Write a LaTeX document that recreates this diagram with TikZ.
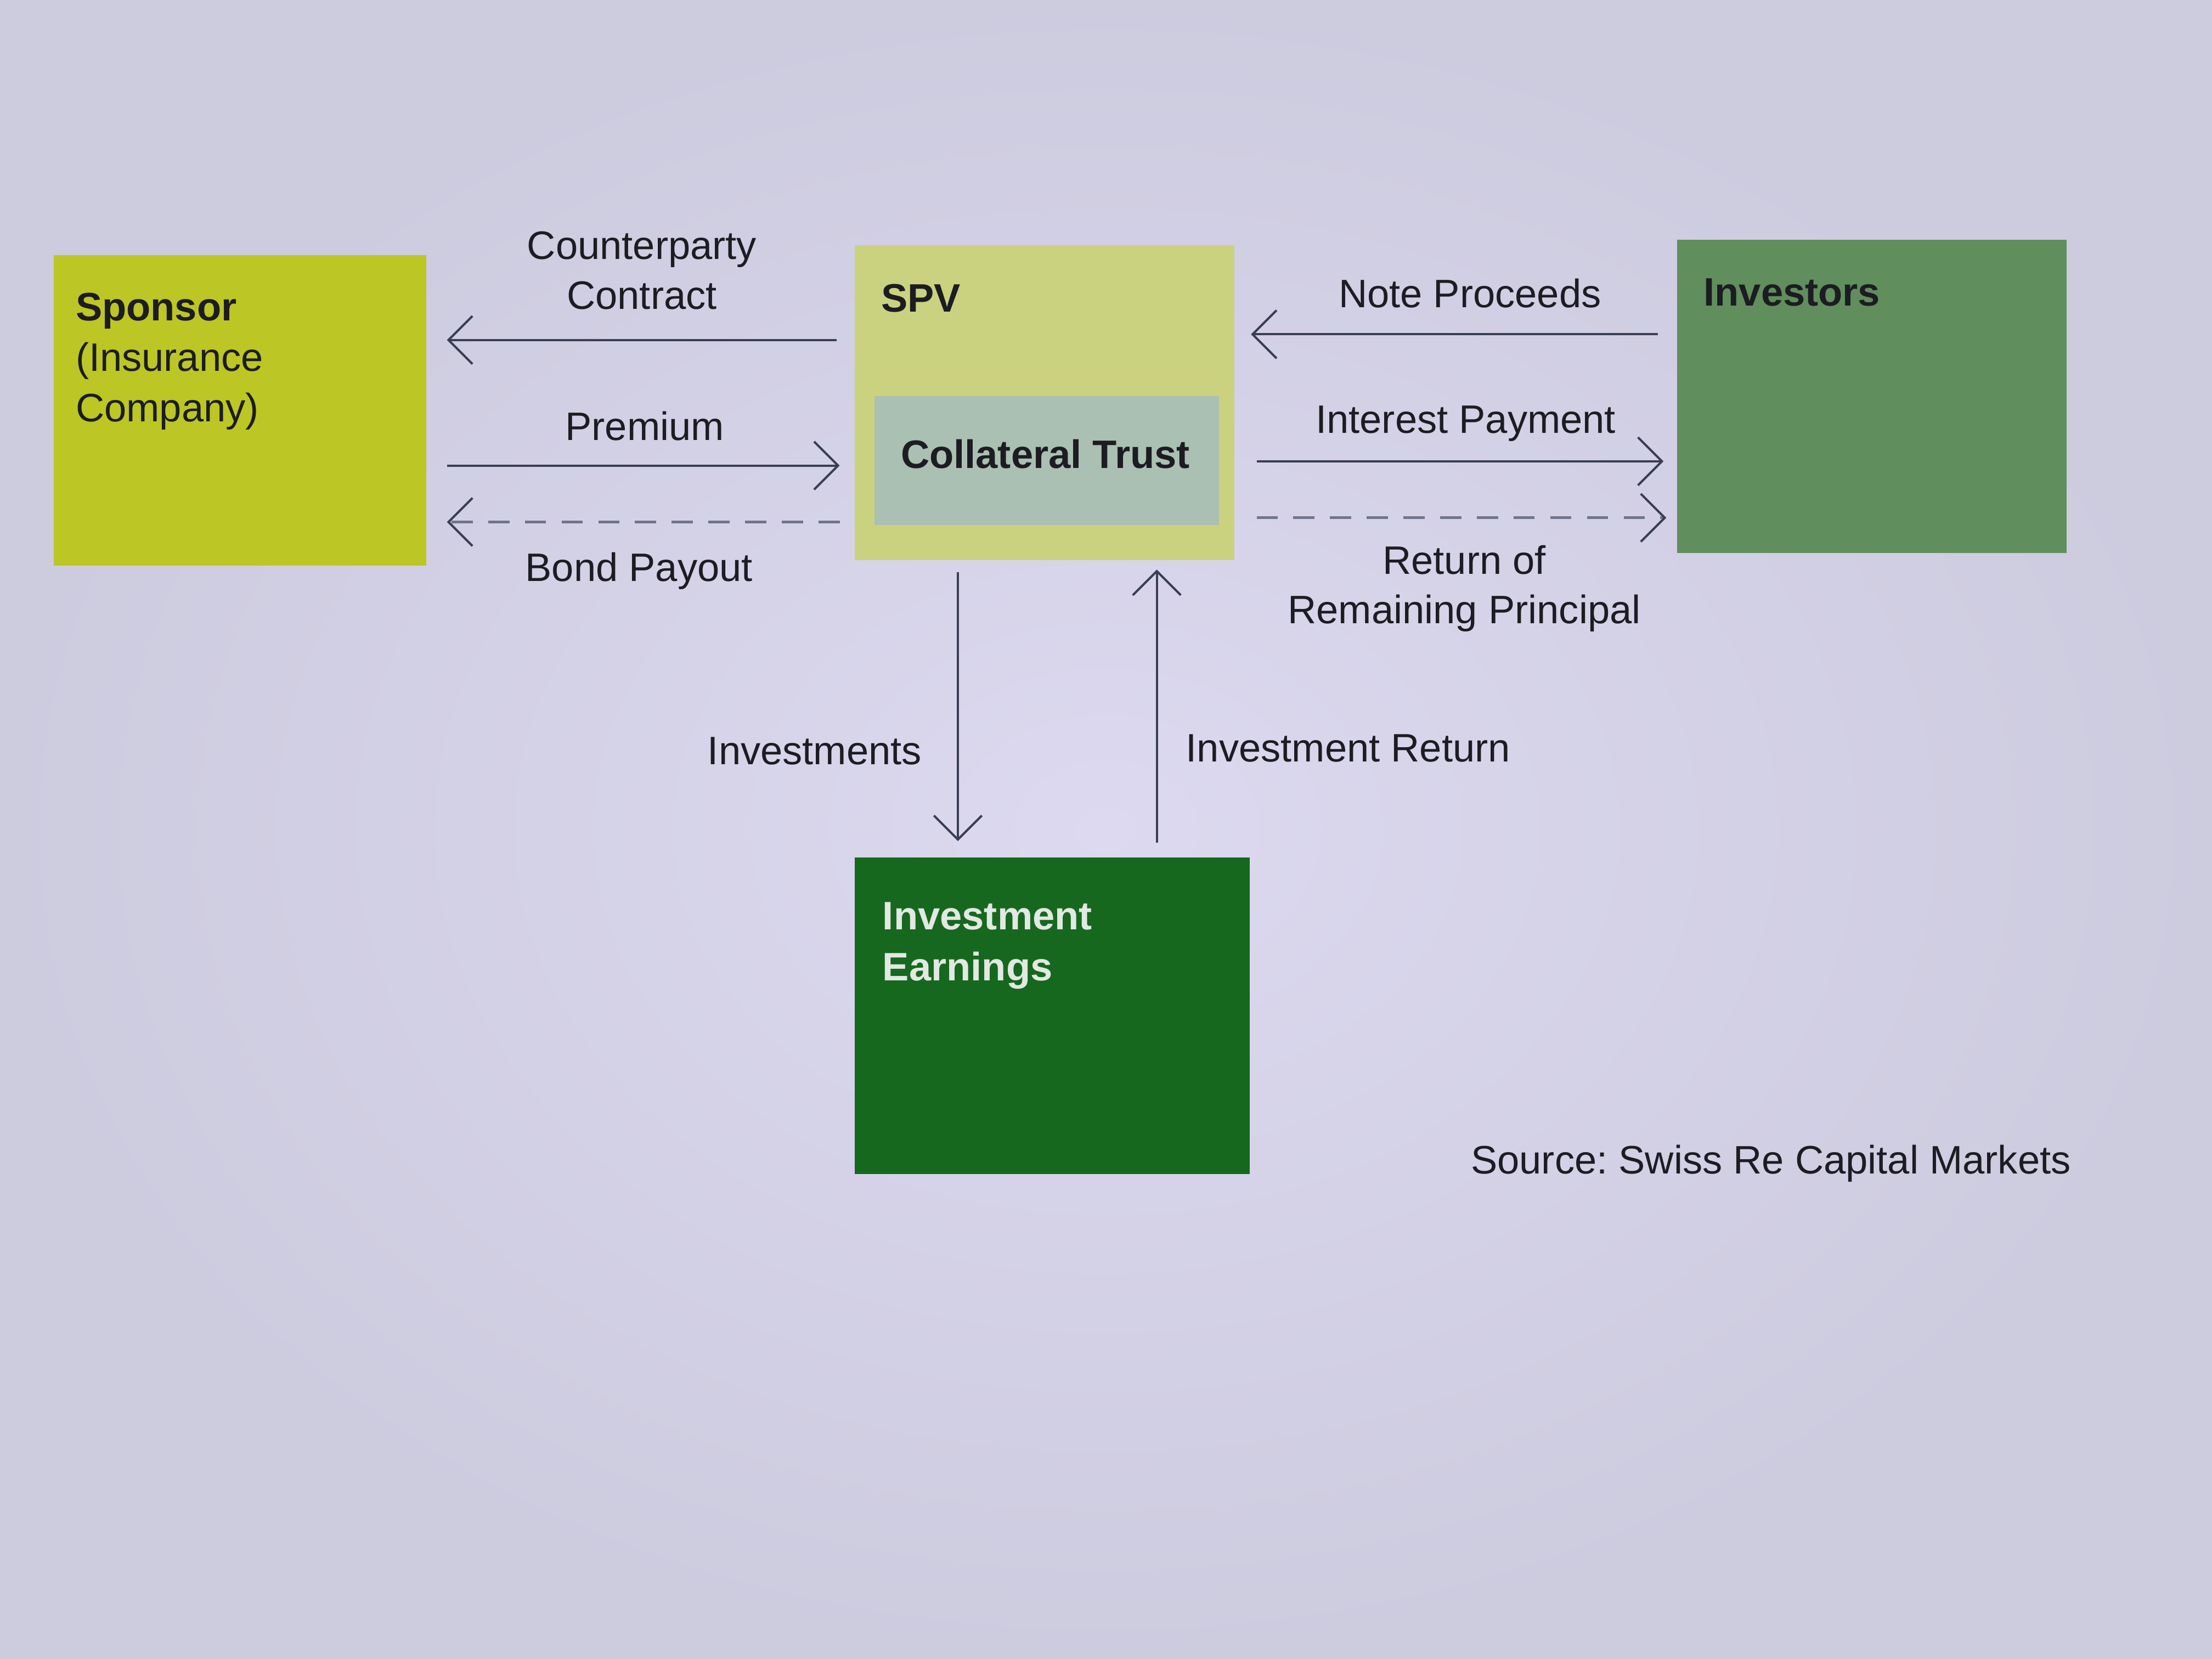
\documentclass[tikz,border=0pt]{standalone}
\usepackage{fontspec}
\setmainfont{Liberation Sans}
\usetikzlibrary{arrows.meta}
\definecolor{bgin}{RGB}{220,217,240}
\definecolor{bgout}{RGB}{205,203,222}
\definecolor{sponsorc}{RGB}{188,198,36}
\definecolor{spvc}{RGB}{202,210,128}
\definecolor{trustc}{RGB}{170,192,178}
\definecolor{investc}{RGB}{96,142,92}
\definecolor{earnc}{RGB}{22,104,30}
\definecolor{linec}{RGB}{58,62,84}
\definecolor{dashc}{RGB}{112,116,140}
\definecolor{txtc}{RGB}{28,28,34}
\definecolor{wtxt}{RGB}{226,232,226}
\begin{document}
\begin{tikzpicture}[x=0.01cm,y=-0.01cm,
  box/.style={draw=none,rectangle,inner sep=0pt},
  lbl/.style={inner sep=0pt,text=txtc,font=\fontsize{8}{10}\selectfont,align=center,anchor=base},
  ttl/.style={inner sep=0pt,text=txtc,font=\fontsize{8}{10.2}\selectfont,align=left,anchor=base west},
  arr/.style={draw=linec,line width=0.45pt,-{Straight Barb[length=0.17cm,width=0.34cm,line width=0.45pt]}},
  darr/.style={draw=dashc,line width=0.6pt,dash pattern=on 0.15cm off 0.11cm,-{Straight Barb[length=0.17cm,width=0.34cm,line width=0.45pt,color=linec]}}
]
\shade[inner color=bgin,outer color=bgout] (0,0) rectangle (1568,1176);
\useasboundingbox (0,0) rectangle (1568,1176);

% boxes
\node[box,fill=sponsorc,minimum width=2.64cm,minimum height=2.20cm] (sponsor) at (170,291) {};
\node[box,fill=spvc,minimum width=2.69cm,minimum height=2.23cm] (spv) at (740.5,285.5) {};
\node[box,fill=trustc,minimum width=2.44cm,minimum height=0.91cm] (trust) at (742,326.5) {};
\node[box,fill=investc,minimum width=2.76cm,minimum height=2.22cm] (investors) at (1327,281) {};
\node[box,fill=earnc,minimum width=2.80cm,minimum height=2.24cm] (earn) at (746,720) {};

% box texts (base = baseline of last line)
\node[ttl] (sponsortxt) at (53,299) {\textbf{Sponsor}\\(Insurance\\Company)};
\node[ttl] (spvtxt) at (624,221) {\textbf{SPV}};
\node[lbl] (trusttxt) at (741,332) {\textbf{Collateral Trust}};
\node[ttl] (investtxt) at (1207,217) {\textbf{Investors}};
\node[ttl,text=wtxt] (earntxt) at (625,695) {\textbf{Investment}\\\textbf{Earnings}};

% left connectors
\draw[arr,shorten <=0.12cm,shorten >=0.14cm] (spv.west |- 0,241) -- (sponsor.east |- 0,241);
\draw[arr,shorten <=0.14cm,shorten >=0.10cm] (sponsor.east |- 0,330) -- (spv.west |- 0,330);
\draw[darr,shorten <=0.10cm,shorten >=0.14cm] (spv.west |- 0,370) -- (sponsor.east |- 0,370);

% right connectors
\draw[arr,shorten <=0.13cm,shorten >=0.11cm] (investors.west |- 0,237) -- (spv.east |- 0,237);
\draw[arr,shorten <=0.15cm,shorten >=0.09cm] (spv.east |- 0,327) -- (investors.west |- 0,327);
\draw[darr,shorten <=0.15cm,shorten >=0.07cm] (spv.east |- 0,367) -- (investors.west |- 0,367);

% vertical connectors
\draw[arr,shorten <=0.08cm,shorten >=0.11cm] (spv.south -| 679,0) -- (earn.north -| 679,0);
\draw[arr,shorten <=0.10cm,shorten >=0.06cm] (earn.north -| 820,0) -- (spv.south -| 820,0);

% connector labels
\node[lbl] (cc) at (455,219) {Counterparty\\Contract};
\node[lbl] (prem) at (457,312) {Premium};
\node[lbl] (bond) at (453,412) {Bond Payout};
\node[lbl] (note) at (1042,218) {Note Proceeds};
\node[lbl] (intp) at (1039,307) {Interest Payment};
\node[lbl] (ret) at (1038,442) {Return of\\Remaining Principal};
\node[lbl,anchor=base east] (inv) at (654,542) {Investments};
\node[lbl,anchor=base west] (invr) at (840,540) {Investment Return};
\node[lbl,anchor=base west] (src) at (1042,832) {Source:\ Swiss Re Capital Markets};
\end{tikzpicture}
\end{document}
